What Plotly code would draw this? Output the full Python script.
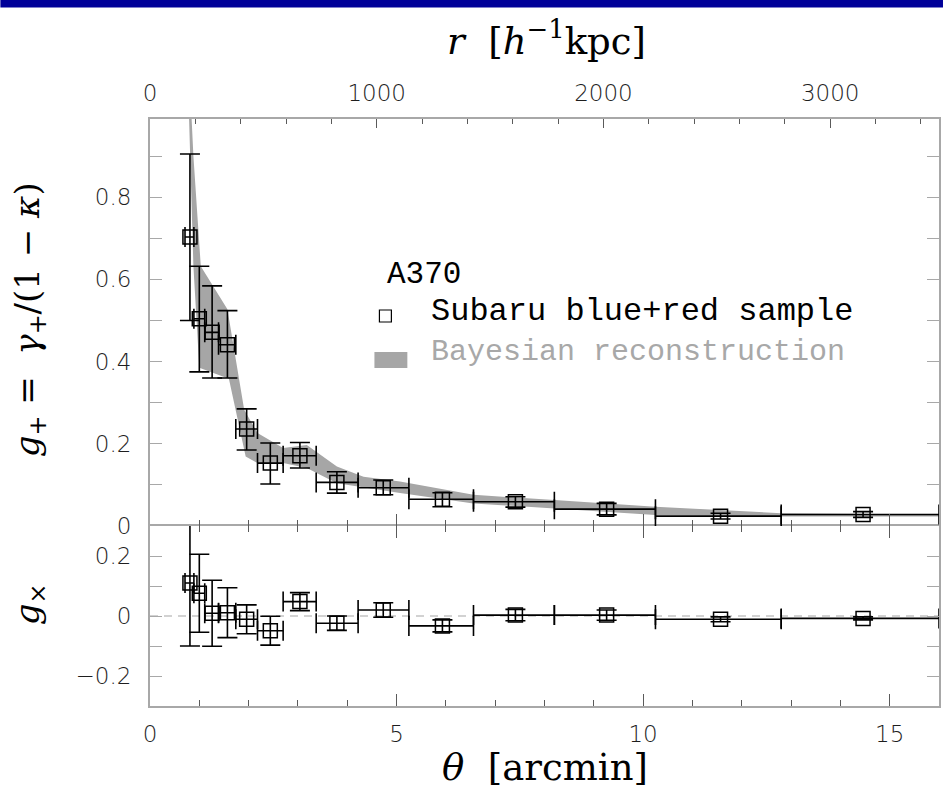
import plotly.graph_objects as go

# ---------------- data ----------------
theta = [0.81, 1.00, 1.26, 1.57, 1.96, 2.44, 3.04, 3.79, 4.73, 5.93, 7.41, 9.26, 11.57, 14.46]
bin_lo = [0.71, 0.89, 1.11, 1.39, 1.74, 2.18, 2.70, 3.37, 4.22, 5.25, 6.56, 8.20, 10.25, 12.80]
bin_hi = [0.89, 1.11, 1.39, 1.74, 2.18, 2.70, 3.37, 4.22, 5.25, 6.56, 8.20, 10.25, 12.80, 16.00]

gplus = [0.703, 0.504, 0.471, 0.441, 0.236, 0.153, 0.171, 0.106, 0.093, 0.065, 0.059, 0.041, 0.024, 0.028]
gplus_hi = [0.905, 0.632, 0.584, 0.524, 0.285, 0.202, 0.203, 0.132, 0.112, 0.081, 0.071, 0.055, 0.031, 0.035]
gplus_lo = [0.500, 0.375, 0.360, 0.360, 0.185, 0.102, 0.141, 0.080, 0.076, 0.047, 0.046, 0.027, 0.017, 0.021]

gcross = [0.110, 0.076, 0.009, 0.011, -0.011, -0.049, 0.048, -0.024, 0.020, -0.033, 0.003, 0.003, -0.011, -0.008]
gcross_err = [0.210, 0.130, 0.110, 0.083, 0.048, 0.048, 0.030, 0.024, 0.024, 0.020, 0.019, 0.017, 0.008, 0.005]

band_x_up = [0.84, 0.88, 1.03, 1.57, 1.91, 2.18, 2.70, 3.18, 3.79, 4.33, 5.07, 6.56, 8.20, 10.25, 12.80, 16.0]
band_up = [1.00, 0.90, 0.632, 0.527, 0.283, 0.226, 0.190, 0.197, 0.145, 0.120, 0.108, 0.076, 0.063, 0.047, 0.031, 0.028]
band_x_lo = [0.79, 0.82, 0.88, 1.00, 1.60, 1.94, 2.18, 2.70, 3.18, 3.79, 5.07, 6.56, 8.20, 10.25, 12.80, 16.0]
band_lo = [1.00, 0.90, 0.632, 0.385, 0.358, 0.169, 0.153, 0.153, 0.141, 0.104, 0.080, 0.055, 0.043, 0.027, 0.023, 0.023]

theta_ticks = [0, 5, 10, 15]
r_ticks = [0, 1000, 2000, 3000]
gplus_ticks = [0, 0.2, 0.4, 0.6, 0.8]
gcross_ticks = [-0.2, 0, 0.2]

THETA_MAX = 16.0
KPC_PER_ARCMIN = 217.5

# ---------------- geometry ----------------
W, H = 945, 809
ML, MR, MT, MB = 150, 4, 119, 103
PW, PH = W - ML - MR, H - MT - MB
Y_SPLIT = 526  # pixel row separating the two panels
split = (H - MB - Y_SPLIT) / PH


def px(xp):
    return (xp - ML) / PW


def py(yp):
    return 1 - (yp - MT) / PH


TICKC = "#5a5a5a"
LINEC = "#a8a8a8"
tickfont = dict(family="DejaVu Sans", size=23, color="#1e1e1e", weight=300)
serif = "DejaVu Serif"
legfont = "Liberation Mono"

xerr_plus = [h - t for h, t in zip(bin_hi, theta)]
xerr_minus = [t - l for l, t in zip(bin_lo, theta)]

fig = go.Figure()

# Bayesian reconstruction band
fig.add_trace(go.Scatter(
    x=band_x_up + band_x_lo[::-1], y=band_up + band_lo[::-1],
    fill="toself", fillcolor="#a6a6a6", line=dict(width=0), mode="lines",
    xaxis="x2", yaxis="y", hoverinfo="skip", showlegend=False))

# g+ points
fig.add_trace(go.Scatter(
    x=theta, y=gplus, mode="markers", xaxis="x2", yaxis="y",
    marker=dict(symbol="square-open", size=14, color="black", line=dict(width=1.5, color="black")),
    error_y=dict(type="data", symmetric=False,
                 array=[h - g for h, g in zip(gplus_hi, gplus)],
                 arrayminus=[g - l for l, g in zip(gplus_lo, gplus)],
                 color="black", thickness=1.6, width=10),
    error_x=dict(type="data", symmetric=False, array=xerr_plus, arrayminus=xerr_minus,
                 color="black", thickness=1.6, width=10),
    showlegend=False))

# gx points
fig.add_trace(go.Scatter(
    x=theta, y=gcross, mode="markers", xaxis="x", yaxis="y2",
    marker=dict(symbol="square-open", size=14, color="black", line=dict(width=1.5, color="black")),
    error_y=dict(type="data", array=gcross_err, color="black", thickness=1.6, width=10),
    error_x=dict(type="data", symmetric=False, array=xerr_plus, arrayminus=xerr_minus,
                 color="black", thickness=1.6, width=10),
    showlegend=False))

# empty trace to carry the top (kpc) axis
fig.add_trace(go.Scatter(x=[], y=[], xaxis="x3", yaxis="y", showlegend=False, hoverinfo="skip"))

tick_x = dict(range=[0, THETA_MAX], ticks="inside", ticklen=12, tickwidth=1.3, tickcolor=TICKC,
              minor=dict(dtick=1, ticks="inside", ticklen=6, tickwidth=1.3, tickcolor=TICKC),
              showgrid=False, zeroline=False, tickvals=theta_ticks)

fig.update_layout(
    width=W, height=H, margin=dict(l=ML, r=MR, t=MT, b=MB),
    paper_bgcolor="white", plot_bgcolor="white",
    xaxis=dict(anchor="y2", domain=[0, 1], mirror="ticks", showline=True, linecolor=LINEC, linewidth=2,
               tickfont=tickfont, ticklabelstandoff=6, **tick_x),
    xaxis2=dict(anchor="y", domain=[0, 1], matches="x", showticklabels=False, showline=False, **tick_x),
    xaxis3=dict(anchor="y", overlaying="x2", side="top",
                range=[0, THETA_MAX * KPC_PER_ARCMIN], tickvals=r_ticks,
                ticks="inside", ticklen=9, tickwidth=1.3, tickcolor=TICKC,
                minor=dict(dtick=200, ticks="inside", ticklen=5, tickwidth=1.3, tickcolor=TICKC),
                showline=True, linecolor=LINEC, linewidth=2, showgrid=False, zeroline=False,
                tickfont=tickfont, ticklabelstandoff=7),
    yaxis=dict(domain=[split, 1], range=[0, 0.99], tickvals=gplus_ticks,
               ticks="inside", ticklen=12, tickwidth=1.3, tickcolor=LINEC,
               minor=dict(dtick=0.1, ticks="inside", ticklen=12, tickwidth=1.3, tickcolor=LINEC),
               showline=True, linecolor=LINEC, linewidth=2, mirror="ticks",
               showgrid=False, zeroline=False, tickfont=tickfont, ticklabelstandoff=12),
    yaxis2=dict(domain=[0, split], range=[-0.3, 0.3], tickvals=gcross_ticks,
                ticks="inside", ticklen=12, tickwidth=1.3, tickcolor=LINEC,
                minor=dict(dtick=0.1, ticks="inside", ticklen=12, tickwidth=1.3, tickcolor=LINEC),
                showline=True, linecolor=LINEC, linewidth=2, mirror="ticks",
                showgrid=False, zeroline=False, tickfont=tickfont, ticklabelstandoff=12),
)

# zero line of the cross-shear panel
fig.add_shape(type="line", xref="paper", yref="y2", x0=0, x1=1, y0=0, y1=0,
              line=dict(color="#c4c4c4", width=1.5, dash="8px,6px"), layer="below")

# blue banner on top
fig.add_shape(type="rect", xref="paper", yref="paper", x0=px(0), x1=px(W), y0=py(7.5), y1=py(-2),
              fillcolor="#000099", line=dict(width=0))

# legend symbols
fig.add_shape(type="rect", xref="paper", yref="paper", x0=px(380), x1=px(392), y0=py(322), y1=py(310),
              line=dict(color="black", width=1.2), fillcolor="rgba(0,0,0,0)")
fig.add_shape(type="rect", xref="paper", yref="paper", x0=px(375), x1=px(408), y0=py(368), y1=py(352),
              fillcolor="#a6a6a6", line=dict(width=0))

fig.add_annotation(text="<i>r</i>  [<i>h</i><sup>−1</sup>kpc]", x=px(548), y=py(38),
                   xref="paper", yref="paper", showarrow=False, xanchor="center", yanchor="middle",
                   font=dict(family=serif, size=37, color="black"))
fig.add_annotation(text="<i>θ</i>  [arcmin]", x=px(546), y=py(767),
                   xref="paper", yref="paper", showarrow=False, xanchor="center", yanchor="middle",
                   font=dict(family=serif, size=37, color="black"))

fig.add_annotation(text="<i>g</i><sub>+</sub> =  <i>γ</i><sub>+</sub>/(1 − <i>κ</i>)", x=px(29), y=py(320),
                   xref="paper", yref="paper", showarrow=False, textangle=-90,
                   xanchor="center", yanchor="middle", font=dict(family=serif, size=34, color="black"))
fig.add_annotation(text="<i>g</i><sub>×</sub>", x=px(29), y=py(604),
                   xref="paper", yref="paper", showarrow=False, textangle=-90,
                   xanchor="center", yanchor="middle", font=dict(family=serif, size=34, color="black"))

fig.add_annotation(text="A370", x=px(386), y=py(274), xref="paper", yref="paper", showarrow=False,
                   xanchor="left", yanchor="middle", font=dict(family=legfont, size=31, color="black"))
fig.add_annotation(text="Subaru blue+red sample", x=px(430), y=py(311), xref="paper", yref="paper",
                   showarrow=False, xanchor="left", yanchor="middle",
                   font=dict(family=legfont, size=32, color="black"))
fig.add_annotation(text="Bayesian reconstruction", x=px(430), y=py(352), xref="paper", yref="paper",
                   showarrow=False, xanchor="left", yanchor="middle",
                   font=dict(family=legfont, size=30, color="#a8a8a8"))

fig.write_html("out.html")
